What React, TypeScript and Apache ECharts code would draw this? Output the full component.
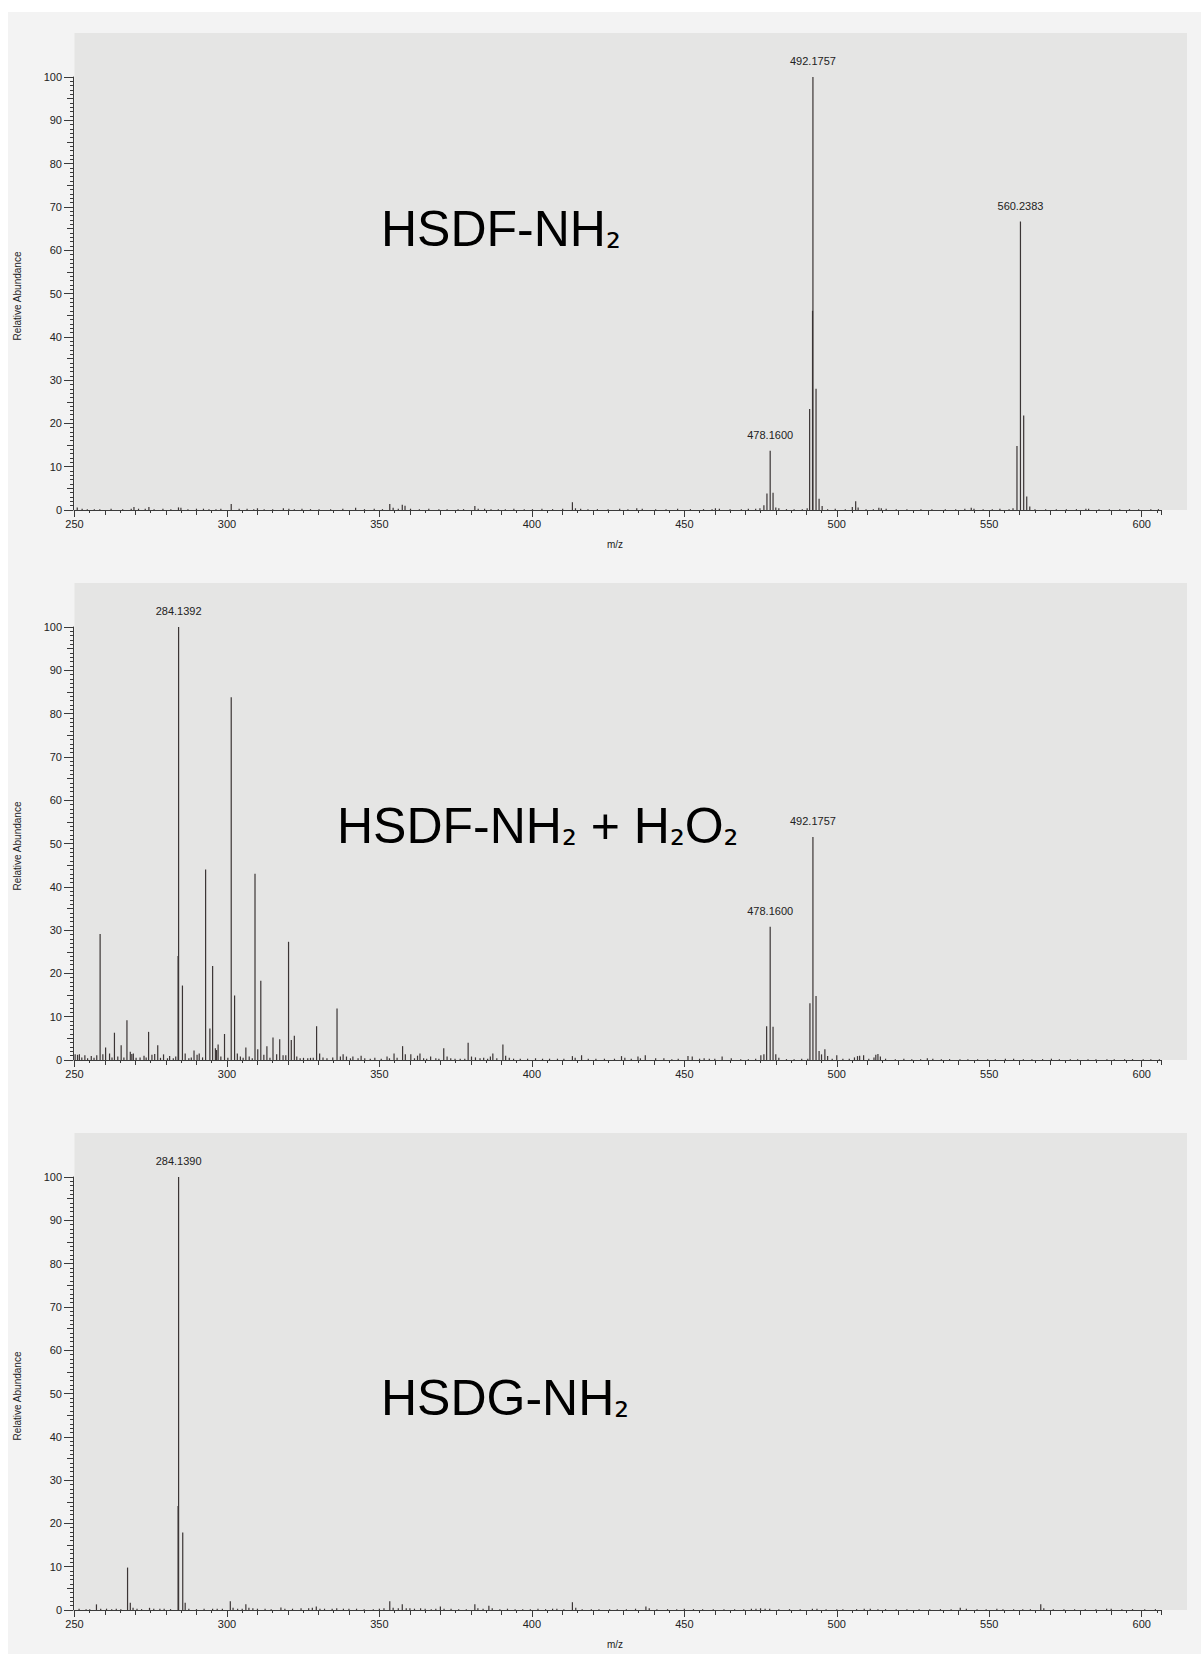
import React, { useEffect, useRef } from "react";
import * as echarts from "echarts";

// ---------- DATA ----------
const X_MIN = 250;
const X_MAX = 606.5;
const X_TICK_LABELS = [250, 300, 350, 400, 450, 500, 550, 600];
const Y_TICK_LABELS = [0, 10, 20, 30, 40, 50, 60, 70, 80, 90, 100];

// titles as [text, subscript] pieces
const titles: string[][] = [
  ["HSDF-NH", "₂"],
  ["HSDF-NH", "₂", " + H", "₂", "O", "₂"],
  ["HSDG-NH", "₂"],
];
const yAxisTitle = "Relative Abundance";
const xAxisTitle = "m/z";

// Panel 1: HSDF-NH2  [m/z, relative abundance]
const spectrumA: [number, number][] = [
  [250.9, 0.6], [252.5, 0.3], [254.2, 0.2], [256.5, 0.2], [258.3, 0.2], [262.0, 0.3], [265.8, 0.2], [268.6, 0.3],
  [269.5, 0.7], [271.0, 0.3], [273.2, 0.3], [274.4, 0.7], [276.1, 0.2], [279.0, 0.3], [281.6, 0.2], [284.1, 0.6],
  [284.9, 0.5], [287.2, 0.2], [290.0, 0.3], [292.3, 0.3], [294.1, 0.2], [296.4, 0.2], [298.0, 0.3], [301.4, 1.4],
  [304.0, 0.3], [306.6, 0.3], [308.8, 0.2], [310.0, 0.4], [312.2, 0.2], [315.0, 0.2], [318.5, 0.4], [320.3, 0.3],
  [322.1, 0.2], [324.6, 0.3], [327.4, 0.2], [330.2, 0.2], [334.0, 0.2], [338.0, 0.3], [342.2, 0.5], [345.1, 0.2],
  [348.3, 0.3], [351.0, 0.2], [353.4, 1.4], [354.5, 0.5], [356.2, 0.3], [357.5, 1.2], [358.4, 1.0], [360.2, 0.3],
  [363.1, 0.2], [366.2, 0.3], [369.5, 0.2], [372.2, 0.2], [375.8, 0.2], [377.6, 0.2], [381.3, 0.9], [382.4, 0.3],
  [384.5, 0.3], [386.6, 0.2], [389.0, 0.2], [391.3, 0.2], [394.1, 0.3], [397.5, 0.2], [400.2, 0.2], [403.3, 0.3],
  [406.8, 0.2], [410.1, 0.3], [413.3, 1.8], [414.3, 0.4], [416.0, 0.3], [418.4, 0.2], [421.5, 0.2], [425.0, 0.2],
  [428.8, 0.3], [431.5, 0.2], [434.4, 0.4], [436.2, 0.3], [440.6, 0.2], [444.0, 0.2], [447.8, 0.3], [452.0, 0.2],
  [456.3, 0.2], [459.1, 0.2], [460.2, 0.4], [461.5, 0.3], [465.0, 0.2], [468.7, 0.2], [471.0, 0.3], [473.4, 0.3],
  [474.8, 0.4], [476.1, 1.1], [477.1, 3.8], [478.16, 13.7], [479.1, 4.0], [480.0, 0.6], [481.0, 0.4], [483.5, 0.2],
  [486.0, 0.2], [488.7, 0.2], [490.3, 0.4], [491.1, 23.3], [492.05, 46.0], [492.18, 100], [493.2, 28.0], [494.2, 2.6],
  [495.2, 0.9], [497.0, 0.2], [499.5, 0.3], [502.8, 0.2], [505.1, 0.7], [506.2, 2.0], [507.0, 0.6], [509.6, 0.2],
  [512.0, 0.2], [513.8, 0.5], [514.6, 0.4], [516.2, 0.3], [519.5, 0.2], [523.0, 0.2], [527.6, 0.2], [531.2, 0.2],
  [535.6, 0.2], [539.0, 0.2], [542.0, 0.3], [544.1, 0.5], [545.0, 0.3], [548.0, 0.2], [551.0, 0.2], [553.5, 0.3],
  [556.5, 0.2], [557.8, 0.4], [559.1, 14.8], [560.24, 66.6], [561.3, 21.8], [562.3, 3.1], [563.3, 0.8], [565.0, 0.2],
  [568.5, 0.2], [572.0, 0.2], [575.3, 0.2], [578.6, 0.2], [581.7, 0.3], [582.6, 0.3], [586.0, 0.2], [589.4, 0.2],
  [592.8, 0.2], [596.0, 0.2], [599.0, 0.2], [603.0, 0.2], [605.5, 0.2],
];
const labelsA: [number, string][] = [
  [478.16, "478.1600"],
  [492.18, "492.1757"],
  [560.24, "560.2383"],
];

// Panel 2: HSDF-NH2 + H2O2
const spectrumB: [number, number][] = [
  [250.2, 1.3], [251.0, 1.2], [251.6, 1.3], [252.4, 0.6], [253.4, 1.1], [254.3, 0.4], [255.5, 0.9], [256.4, 0.5],
  [257.3, 1.1], [258.4, 29.1], [259.3, 1.3], [260.2, 2.9], [261.5, 1.5], [262.3, 0.6], [263.1, 6.3], [264.2, 0.8],
  [265.3, 3.4], [266.2, 0.6], [267.2, 9.2], [268.3, 1.9], [268.8, 1.4], [269.3, 1.5], [270.2, 0.5], [271.5, 0.6],
  [272.8, 1.0], [273.5, 0.6], [274.3, 6.5], [275.4, 1.2], [276.3, 1.4], [277.3, 3.4], [278.2, 0.5], [279.2, 1.3],
  [280.5, 0.4], [281.2, 0.9], [282.4, 0.4], [283.2, 0.8], [283.97, 24.0], [284.14, 100], [285.4, 17.2], [286.3, 1.5],
  [287.5, 0.4], [288.3, 0.6], [289.2, 2.2], [290.2, 1.2], [290.9, 1.5], [292.0, 0.6], [293.0, 44.0], [294.4, 7.3],
  [295.3, 21.7], [296.2, 2.7], [296.6, 2.3], [297.1, 3.6], [298.0, 0.8], [299.2, 6.0], [300.3, 0.5], [301.4, 83.8],
  [302.5, 14.9], [303.4, 1.5], [304.4, 0.8], [305.3, 0.5], [306.2, 2.9], [307.3, 0.8], [308.3, 0.4], [309.2, 43.0],
  [310.1, 2.5], [311.1, 18.3], [312.1, 1.2], [313.1, 3.2], [314.1, 0.5], [315.1, 5.2], [316.3, 1.3], [317.3, 4.8],
  [318.4, 1.1], [319.3, 1.1], [320.2, 27.3], [321.1, 4.6], [322.1, 5.6], [322.9, 0.8], [324.0, 0.4], [325.1, 0.5],
  [326.5, 0.4], [327.4, 0.5], [328.3, 0.5], [329.4, 7.8], [330.4, 1.5], [331.5, 0.6], [332.8, 0.4], [334.7, 0.6],
  [336.1, 11.9], [337.2, 0.8], [338.1, 1.3], [339.2, 0.8], [340.5, 0.4], [341.3, 0.8], [343.0, 0.4], [344.0, 1.0],
  [345.2, 0.4], [347.0, 0.3], [348.5, 0.5], [350.6, 0.3], [352.5, 0.8], [353.3, 0.4], [354.8, 1.5], [355.8, 0.5],
  [357.6, 3.2], [358.5, 1.3], [360.3, 1.3], [361.5, 0.4], [362.5, 1.0], [363.3, 1.5], [364.5, 0.4], [365.5, 0.3],
  [366.8, 0.8], [368.5, 0.4], [369.5, 0.3], [371.1, 2.7], [372.2, 0.8], [373.4, 0.4], [374.8, 0.3], [376.5, 0.3],
  [378.0, 0.3], [379.1, 4.0], [380.2, 0.8], [381.5, 0.6], [383.0, 0.4], [384.2, 0.5], [385.5, 0.3], [386.4, 0.8],
  [387.2, 1.5], [388.5, 0.4], [390.5, 3.6], [391.4, 1.0], [392.6, 0.5], [394.0, 0.3], [396.2, 0.3], [398.6, 0.3],
  [401.2, 0.4], [403.5, 0.3], [405.8, 0.3], [408.4, 0.3], [410.5, 0.3], [413.3, 0.9], [414.2, 0.5], [416.3, 1.1],
  [418.5, 0.3], [421.0, 0.3], [423.8, 0.3], [427.1, 0.3], [429.4, 0.9], [430.5, 0.5], [432.6, 0.3], [434.8, 0.8],
  [435.6, 0.4], [437.2, 1.1], [440.6, 0.4], [443.3, 0.4], [445.9, 0.2], [448.0, 0.3], [451.2, 0.9], [452.6, 0.8],
  [455.0, 0.3], [456.5, 0.4], [458.2, 0.3], [460.0, 0.3], [462.4, 0.8], [465.4, 0.4], [468.5, 0.2], [471.0, 0.2],
  [473.4, 0.3], [475.1, 1.1], [476.1, 1.3], [477.0, 7.8], [478.16, 30.8], [479.1, 7.7], [480.0, 1.3], [481.0, 0.5],
  [483.5, 0.2], [486.0, 0.2], [488.5, 0.3], [490.5, 0.3], [491.2, 13.1], [492.18, 51.5], [493.2, 14.8], [494.2, 2.1],
  [495.0, 1.3], [496.1, 2.5], [497.0, 0.9], [498.5, 0.3], [500.0, 1.1], [502.0, 0.3], [504.1, 0.3], [505.8, 0.6],
  [506.8, 0.9], [507.5, 1.0], [508.8, 1.1], [510.5, 0.3], [512.2, 0.6], [512.8, 1.2], [513.5, 1.4], [514.3, 0.8],
  [516.0, 0.3], [519.2, 0.2], [522.0, 0.3], [524.6, 0.2], [527.5, 0.2], [529.7, 0.4], [531.5, 0.3], [534.3, 0.2],
  [537.0, 0.2], [540.4, 0.2], [543.0, 0.2], [546.2, 0.2], [549.5, 0.2], [552.0, 0.2], [555.3, 0.3], [558.0, 0.3],
  [561.2, 0.2], [564.0, 0.2], [567.5, 0.2], [570.4, 0.3], [573.0, 0.2], [576.6, 0.2], [579.0, 0.2], [582.4, 0.2],
  [585.0, 0.2], [588.6, 0.2], [591.0, 0.2], [594.4, 0.2], [597.0, 0.2], [600.5, 0.2], [603.0, 0.2], [605.8, 0.2],
];
const labelsB: [number, string][] = [
  [284.14, "284.1392"],
  [478.16, "478.1600"],
  [492.18, "492.1757"],
];

// Panel 3: HSDG-NH2
const spectrumC: [number, number][] = [
  [251.5, 0.3], [253.8, 0.2], [255.0, 0.2], [257.2, 1.3], [258.6, 0.3], [260.5, 0.3], [262.2, 0.2], [263.7, 0.3],
  [265.2, 0.2], [267.4, 9.8], [268.3, 1.7], [269.2, 0.5], [270.5, 0.3], [272.0, 0.2], [274.6, 0.5], [276.0, 0.3],
  [278.0, 0.3], [279.4, 0.3], [281.5, 0.2], [283.97, 24.0], [284.14, 100], [285.5, 17.9], [286.3, 1.7], [287.5, 0.3],
  [290.0, 0.2], [292.5, 0.3], [295.3, 0.3], [296.8, 0.3], [298.5, 0.3], [301.1, 2.0], [302.0, 0.5], [303.5, 0.3],
  [305.0, 0.3], [306.2, 1.3], [307.2, 0.5], [308.5, 0.4], [310.0, 0.3], [312.5, 0.3], [314.5, 0.2], [317.7, 0.6],
  [319.0, 0.3], [321.5, 0.3], [324.3, 0.4], [326.8, 0.4], [328.0, 0.5], [329.3, 0.8], [330.5, 0.3], [332.0, 0.3],
  [334.5, 0.3], [336.0, 0.4], [338.2, 0.3], [340.0, 0.3], [342.5, 0.3], [345.0, 0.2], [348.0, 0.2], [350.0, 0.3],
  [351.5, 0.4], [353.4, 2.0], [354.5, 0.5], [356.2, 0.4], [357.5, 1.3], [358.8, 0.4], [360.0, 0.4], [361.5, 0.3],
  [363.5, 0.4], [365.0, 0.3], [367.0, 0.2], [368.5, 0.3], [370.0, 0.8], [371.2, 0.3], [373.5, 0.3], [376.0, 0.2],
  [378.5, 0.2], [381.3, 1.3], [382.3, 0.4], [384.0, 0.3], [385.9, 1.0], [387.0, 0.4], [389.5, 0.2], [392.0, 0.3],
  [394.5, 0.2], [397.0, 0.2], [399.5, 0.2], [402.0, 0.3], [404.5, 0.2], [406.8, 0.3], [408.2, 0.3], [410.5, 0.2],
  [413.3, 1.8], [414.4, 0.5], [416.5, 0.2], [419.5, 0.2], [422.0, 0.2], [425.5, 0.2], [428.0, 0.2], [431.0, 0.2],
  [434.0, 0.3], [437.4, 0.8], [438.5, 0.4], [441.0, 0.2], [444.5, 0.2], [447.5, 0.2], [450.0, 0.3], [453.0, 0.2],
  [456.0, 0.2], [459.5, 0.2], [463.0, 0.2], [466.5, 0.2], [469.5, 0.2], [472.0, 0.3], [473.5, 0.3], [475.0, 0.4],
  [476.5, 0.3], [478.0, 0.3], [481.0, 0.2], [484.5, 0.2], [488.0, 0.2], [492.0, 0.3], [493.5, 0.3], [496.5, 0.2],
  [500.0, 0.2], [502.0, 0.2], [506.5, 0.2], [509.0, 0.3], [511.0, 0.3], [513.5, 0.2], [516.0, 0.2], [519.5, 0.2],
  [523.0, 0.2], [527.0, 0.2], [530.5, 0.2], [534.0, 0.2], [537.5, 0.2], [540.5, 0.5], [542.5, 0.3], [546.0, 0.2],
  [549.0, 0.2], [552.5, 0.3], [554.5, 0.2], [558.0, 0.2], [561.0, 0.2], [563.5, 0.2], [566.9, 1.3], [567.9, 0.4],
  [571.0, 0.2], [574.5, 0.2], [578.0, 0.2], [581.5, 0.2], [585.0, 0.2], [588.5, 0.3], [590.0, 0.3], [593.5, 0.2],
  [597.0, 0.2], [601.0, 0.2], [604.5, 0.2],
];
const labelsC: [number, string][] = [[284.14, "284.1390"]];

const spectra = [spectrumA, spectrumB, spectrumC];
const peakLabels = [labelsA, labelsB, labelsC];

// ---------- LAYOUT / STYLE ----------
const FONT = "'Liberation Sans', Arial, Helvetica, sans-serif";
const PANEL_STEP = 550;
const GRID_LEFT = 74.5;
const GRID_TOP = 77;
const GRID_W = 1087;
const GRID_H = 433;
const PEAK_COLOR = "#3b3535";
const AXIS_COLOR = "#3a3a3a";
const TEXT_COLOR = "#222";
const titlePos = [
  [381, 229],
  [337, 825.5],
  [381, 1398],
];
const showXName = [true, false, true];

function buildOption(): echarts.EChartsOption {
  const grids: any[] = [];
  const xAxes: any[] = [];
  const yAxes: any[] = [];
  const series: any[] = [];
  const graphics: any[] = [
    { type: "rect", z: -20, shape: { x: 8, y: 12, width: 1193, height: 1642 }, style: { fill: "#f3f3f3" } },
  ];

  for (let i = 0; i < 3; i++) {
    const top = GRID_TOP + PANEL_STEP * i;
    grids.push({ left: GRID_LEFT, top, width: GRID_W, height: GRID_H, containLabel: false, outerBoundsMode: "none" });

    graphics.push({
      type: "rect",
      z: -10,
      shape: { x: GRID_LEFT, y: 33 + PANEL_STEP * i, width: 1187 - GRID_LEFT, height: top + GRID_H - (33 + PANEL_STEP * i) },
      style: { fill: "#e5e5e4" },
    });

    // main x axis
    xAxes.push({
      type: "value",
      gridIndex: i,
      position: "bottom",
      min: X_MIN,
      max: X_MAX,
      interval: 10,
      axisLine: { show: true, onZero: false, lineStyle: { color: AXIS_COLOR, width: 1 } },
      axisTick: { show: true, length: 5, lineStyle: { color: AXIS_COLOR, width: 1 } },
      minorTick: { show: true, splitNumber: 2, length: 3, lineStyle: { color: AXIS_COLOR, width: 1 } },
      splitLine: { show: false },
      minorSplitLine: { show: false },
      axisLabel: {
        show: true,
        customValues: X_TICK_LABELS,
        formatter: (v: number) => String(v),
        fontSize: 11,
        color: TEXT_COLOR,
        fontFamily: FONT,
        margin: 8,
      },
    });
    // y axis
    yAxes.push({
      type: "value",
      gridIndex: i,
      position: "left",
      min: 0,
      max: 100,
      interval: 10,
      offset: 1.5,
      axisLine: { show: true, lineStyle: { color: AXIS_COLOR, width: 1 } },
      axisTick: { show: true, length: 9, lineStyle: { color: AXIS_COLOR, width: 1 } },
      minorTick: { show: true, splitNumber: 10, length: 3, lineStyle: { color: AXIS_COLOR, width: 1 } },
      splitLine: { show: false },
      minorSplitLine: { show: false },
      axisLabel: {
        show: true,
        customValues: Y_TICK_LABELS,
        fontSize: 11,
        color: TEXT_COLOR,
        fontFamily: FONT,
        margin: 11,
      },
    });

    const labs = peakLabels[i];
    const data = spectra[i].map(([mz, v]) => {
      const lab = labs.find((l) => l[0] === mz);
      if (lab) {
        return { value: [mz, v], label: { show: true, formatter: lab[1] } };
      }
      return [mz, v];
    });

    series.push({
      type: "bar",
      xAxisIndex: i,
      yAxisIndex: i,
      data,
      barWidth: 1.2,
      silent: true,
      itemStyle: { color: PEAK_COLOR },
      label: {
        show: false,
        position: "top",
        distance: 10.5,
        fontSize: 11,
        color: TEXT_COLOR,
        fontFamily: FONT,
      },
      z: 3,
    });

    const pieces = titles[i];
    const richText = pieces.map((p, k) => (k % 2 === 0 ? `{m|${p}}` : `{s|${p}}`)).join("");
    graphics.push({
      type: "text",
      z: 50,
      x: titlePos[i][0],
      y: titlePos[i][1],
      style: {
        text: richText,
        align: "left",
        verticalAlign: "middle",
        fill: "#000",
        rich: {
          m: { fontSize: 50, fontFamily: FONT, lineHeight: 50, fill: "#000", verticalAlign: "middle" },
          s: { fontSize: 37, fontFamily: "'DejaVu Sans', sans-serif", lineHeight: 44, fill: "#000", verticalAlign: "bottom" },
        },
      },
    });
    graphics.push({
      type: "text",
      z: 50,
      x: 17,
      y: GRID_TOP + PANEL_STEP * i + 219,
      rotation: Math.PI / 2,
      style: { text: yAxisTitle, font: `10px ${FONT}`, fill: TEXT_COLOR, align: "center", verticalAlign: "middle" },
    });
    if (showXName[i]) {
      graphics.push({
        type: "text",
        z: 50,
        x: 615,
        y: 544 + PANEL_STEP * i,
        style: { text: xAxisTitle, font: `10px ${FONT}`, fill: TEXT_COLOR, align: "center", verticalAlign: "middle" },
      });
    }
  }

  // overlay axes for the longer ticks
  for (let i = 0; i < 3; i++) {
    xAxes.push({
      type: "value",
      gridIndex: i,
      position: "bottom",
      min: X_MIN,
      max: X_MAX,
      axisLine: { show: false, onZero: false },
      axisTick: { show: true, customValues: X_TICK_LABELS, length: 7, lineStyle: { color: AXIS_COLOR, width: 1 } },
      axisLabel: { show: false },
      splitLine: { show: false },
    });
    yAxes.push({
      type: "value",
      gridIndex: i,
      position: "left",
      min: 0,
      max: 100,
      interval: 5,
      offset: 1.5,
      axisLine: { show: false },
      axisTick: { show: true, length: 6, lineStyle: { color: AXIS_COLOR, width: 1 } },
      axisLabel: { show: false },
      splitLine: { show: false },
    });
  }

  return {
    animation: false,
    backgroundColor: "#ffffff",
    textStyle: { fontFamily: FONT },
    grid: grids,
    xAxis: xAxes,
    yAxis: yAxes,
    series,
    graphic: { elements: graphics },
  } as any;
}

export default function App() {
  const ref = useRef<HTMLDivElement>(null);
  useEffect(() => {
    if (!ref.current) return;
    const chart = echarts.init(ref.current, null, { renderer: "svg" });
    chart.setOption(buildOption());
    return () => chart.dispose();
  }, []);
  return <div ref={ref} style={{ position: "absolute", left: 0, top: 0, width: 1201, height: 1654 }} />;
}
